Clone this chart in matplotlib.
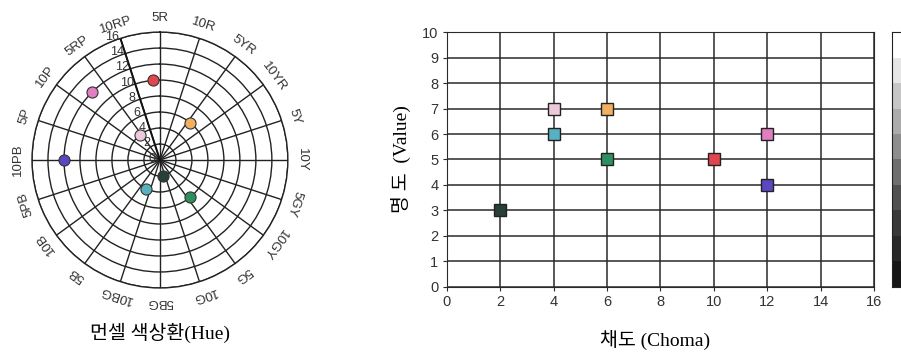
import matplotlib.pyplot as plt
import numpy as np

# Munsell samples: hue angle (deg, clockwise from 5R), chroma, value, colour
hue_names = ["5R", "10R", "5YR", "10YR", "5Y", "10Y", "5GY", "10GY", "5G", "10G",
             "5BG", "10BG", "5B", "10B", "5PB", "10PB", "5P", "10P", "5RP", "10RP"]
hue_angle = [355, 315, 321, 39, 270, 170, 205, 141]
chroma = [10, 12, 4, 6, 12, 2, 4, 6]
value = [5, 6, 7, 7, 4, 3, 6, 5]
colors = ["#e0464e", "#e07ec0", "#eccadc", "#f0b060", "#5a48c0", "#27403a", "#58b0c0", "#2f8f60"]
r_ticks = [0, 2, 4, 6, 8, 10, 12, 14, 16]
gray_steps = ["#161616", "#282828", "#383838", "#505050", "#6e6e6e",
              "#8e8e8e", "#ababab", "#c6c6c6", "#e6e6e6", "#ffffff"]

serif_kr = ["Liberation Serif", "Noto Sans CJK KR"]
fig = plt.figure(figsize=(9.01, 3.56), dpi=100)

# ---- Munsell hue circle
ax = fig.add_axes([0.0355, 0.191, 0.284, 0.719], projection="polar")
ax.set_theta_zero_location("N")
ax.set_theta_direction(-1)
ax.set_ylim(0, 16)
ax.set_xticks(np.deg2rad(np.arange(0, 360, 18)))
ax.set_yticks(r_ticks[1:])
ax.set_xticklabels([])
ax.set_yticklabels([])
ax.grid(True, color="#222222", lw=1.0)
ax.spines["polar"].set_color("#222222")
ax.spines["polar"].set_linewidth(1.0)

for i, name in enumerate(hue_names):
    a = i * 18
    ax.text(np.deg2rad(a), 17.7, name, rotation=-a, ha="center", va="center",
            rotation_mode="anchor", fontsize=9.5, color="#333333",
            family="Liberation Sans", clip_on=False)

# dark radius line with chroma labels
ax.plot([np.deg2rad(342)] * 2, [0, 16], color="#111111", lw=1.4)
for r in r_ticks:
    ax.annotate(str(r), xy=(np.deg2rad(342), r), xytext=(-6, 1), textcoords="offset points",
                ha="center", va="center", fontsize=9, color="#333333", family="Liberation Sans")

for t, c, col in zip(hue_angle, chroma, colors):
    ax.plot(np.deg2rad(t), c, "o", ms=8, mfc=col, mec="#333333", mew=0.8, zorder=5)

fig.text(0.178, 0.065, "먼셀 색상환(Hue)", ha="center", va="center", fontsize=14, family=serif_kr)

# ---- Chroma vs value
ax2 = fig.add_axes([0.4958, 0.1947, 0.4743, 0.7146])
for c, v, col in zip(chroma, value, colors):
    ax2.plot(c, v, "s", ms=9, mfc=col, mec="#222222", mew=1.0, zorder=5, clip_on=False)
ax2.set_xlim(0, 16)
ax2.set_ylim(0, 10)
ax2.set_xticks(range(0, 17, 2))
ax2.set_yticks(range(0, 11))
ax2.grid(True, color="#2a2a2a", lw=1.1)
ax2.set_axisbelow(True)
for s in ax2.spines.values():
    s.set_color("#2a2a2a")
ax2.tick_params(length=3, color="#2a2a2a", labelsize=10.5, labelcolor="#333333", pad=3)
for lab in ax2.get_xticklabels() + ax2.get_yticklabels():
    lab.set_family("Liberation Sans")
ax2.set_ylabel("명 도  (Value)", fontsize=14, family=serif_kr, labelpad=8)
fig.text(0.727, 0.045, "채도 (Choma)", ha="center", va="center", fontsize=14, family=serif_kr)

# ---- grayscale value strip
ax3 = fig.add_axes([0.990, 0.1947, 0.03, 0.7146])
for i, g in enumerate(gray_steps):
    ax3.bar(0.5, 1, bottom=i, width=1, color=g, lw=0)
ax3.set_xlim(0, 1)
ax3.set_ylim(0, 10)
ax3.set_xticks([])
ax3.set_yticks([])
for s in ax3.spines.values():
    s.set_color("#222222")

fig.savefig("out.png", dpi=100)
